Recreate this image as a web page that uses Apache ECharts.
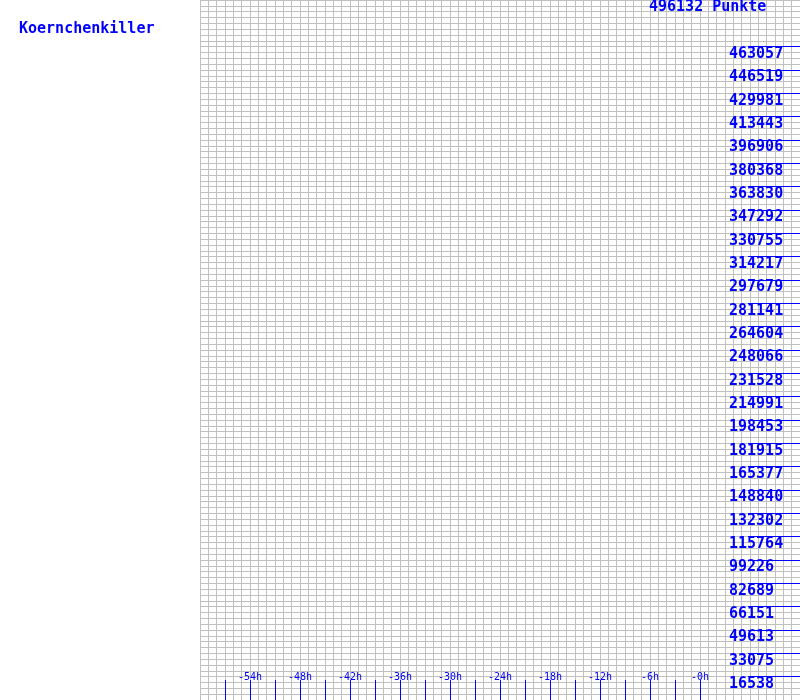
<!DOCTYPE html>
<html>
<head>
<meta charset="utf-8">
<script src="https://cdn.jsdelivr.net/npm/echarts@6/dist/echarts.min.js"></script>
<style>html,body{margin:0;padding:0;background:#fff}#c{width:800px;height:700px}</style>
</head>
<body>
<div id="c"></div>
<script>
const playerName = 'Koernchenkiller';
const totalPoints = 496132;
const totalLabel = '496132 Punkte';
const hourMin = -60;
const hourMax = 12;
const tickHours = [-57,-54,-51,-48,-45,-42,-39,-36,-33,-30,-27,-24,-21,-18,-15,-12,-9,-6,-3,0];
const labelHours = [-54,-48,-42,-36,-30,-24,-18,-12,-6,0];
const xTickLabels = ['-54h','-48h','-42h','-36h','-30h','-24h','-18h','-12h','-6h','-0h'];
const yTickLabels = ['16538','33075','49613','66151','82689','99226','115764','132302','148840','165377','181915','198453','214991','231528','248066','264604','281141','297679','314217','330755','347292','363830','380368','396906','413443','429981','446519','463057'];
const pointsSeries = []; // no visible data points in the reference

const BLUE = '#0000ff';
const GRAY = '#c0c0c0';
const FONT = 'DejaVu Sans Mono';
const yValues = yTickLabels.map(Number);

const chart = echarts.init(document.getElementById('c'), null, {renderer: 'canvas'});
chart.setOption({
  animation: false,
  backgroundColor: '#ffffff',
  title: [
    {text: playerName, left: 19, top: 22, padding: 0,
     textStyle: {color: BLUE, fontFamily: FONT, fontSize: 15, fontWeight: 'bold'}},
    {text: totalLabel, left: 649, top: 0, padding: 0,
     textStyle: {color: BLUE, fontFamily: FONT, fontSize: 15, fontWeight: 'bold'}}
  ],
  grid: {left: 200, right: 0, top: 0, bottom: 0, containLabel: false},
  xAxis: [
    {type: 'value', min: hourMin, max: hourMax, interval: 1,
     axisLine: {show: false, onZero: false}, axisTick: {show: false}, axisLabel: {show: false},
     splitLine: {show: true, lineStyle: {color: GRAY, width: 1}}},
    {type: 'value', min: hourMin, max: hourMax, interval: 3, position: 'bottom',
     axisLine: {show: false, onZero: false, lineStyle: {color: BLUE}},
     axisTick: {show: true, inside: true, length: 20, customValues: tickHours,
                lineStyle: {color: BLUE, width: 1}},
     axisLabel: {show: true, inside: true, margin: 18, customValues: labelHours,
                 color: BLUE, fontFamily: FONT, fontSize: 10,
                 formatter: function (v) { const i = labelHours.indexOf(Math.round(v)); return i >= 0 ? xTickLabels[i] : ''; }},
     splitLine: {show: false}}
  ],
  yAxis: [
    {type: 'value', min: 0, max: totalPoints, interval: totalPoints / 120,
     axisLine: {show: false, onZero: false}, axisTick: {show: false}, axisLabel: {show: false},
     splitLine: {show: true, lineStyle: {color: GRAY, width: 1}}},
    {type: 'value', min: 0, max: totalPoints, position: 'right',
     axisLine: {show: false, onZero: false, lineStyle: {color: BLUE}},
     axisTick: {show: true, inside: true, length: 52, customValues: yValues,
                lineStyle: {color: BLUE, width: 1}},
     axisLabel: {show: true, inside: true, margin: 71, align: 'left', verticalAlign: 'top',
                 customValues: yValues, color: BLUE, fontFamily: FONT, fontSize: 15, fontWeight: 'bold',
                 formatter: function (v) { const i = yValues.indexOf(v); return i >= 0 ? yTickLabels[i] : String(Math.round(v)); }},
     splitLine: {show: false}}
  ],
  series: [
    {type: 'line', xAxisIndex: 0, yAxisIndex: 0, data: pointsSeries, showSymbol: false,
     lineStyle: {color: BLUE, width: 1}}
  ]
});
</script>
</body>
</html>
